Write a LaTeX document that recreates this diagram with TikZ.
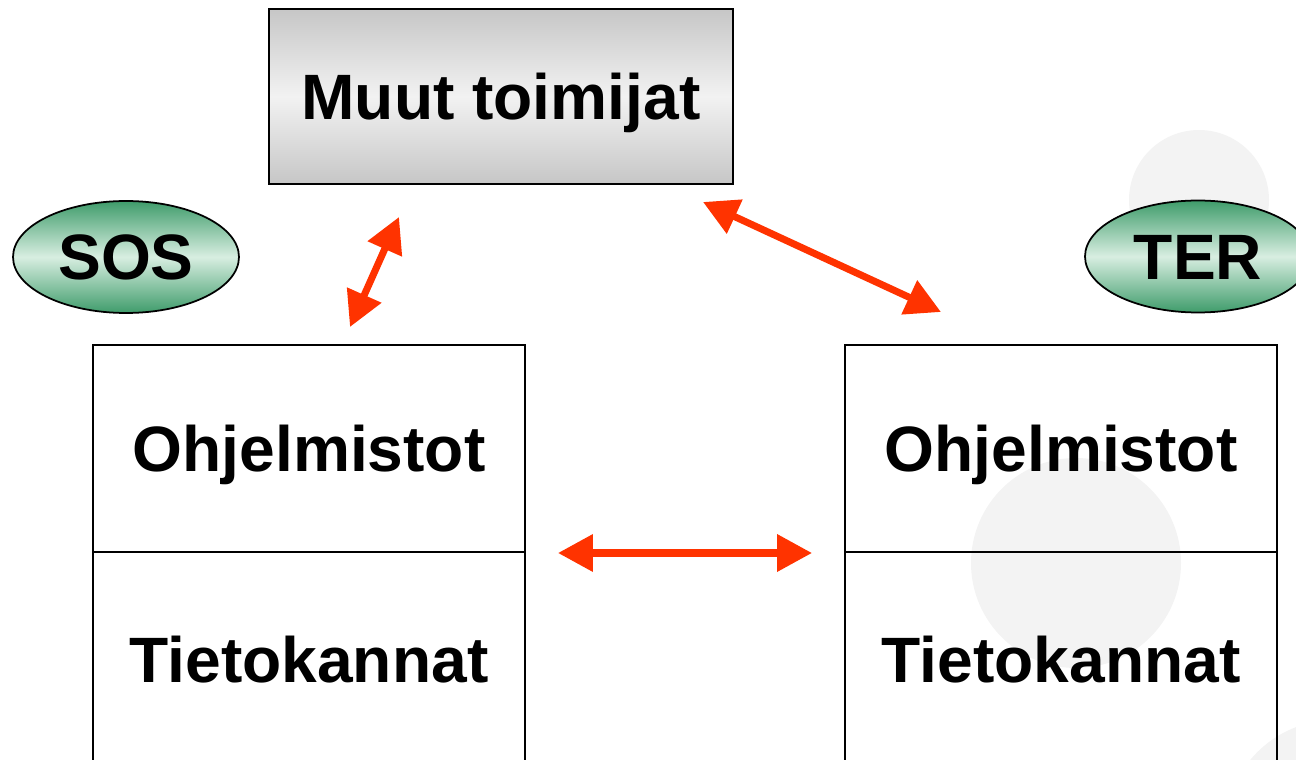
\documentclass[tikz,border=0pt]{standalone}
\usepackage{fontspec}
\setmainfont{Liberation Sans}
\usepackage{tikz}
\usetikzlibrary{shapes.geometric,arrows.meta}
\definecolor{nuolipuna}{HTML}{FF3300}
\definecolor{vihrea}{HTML}{3F9C6B}
\definecolor{vaalea}{HTML}{D8EEE1}
\definecolor{harmaa}{HTML}{C6C6C6}
\definecolor{taustaympyra}{HTML}{F3F3F3}
\tikzset{
  teksti/.style={font=\bfseries\fontsize{36.5}{44}\selectfont, text height=26pt, text depth=0pt},
  kentta/.style={teksti, draw=black, line width=1.2pt, minimum width=8.64cm, inner sep=0pt, outer sep=0pt},
  harmaakentta/.style={teksti, draw=black, line width=1.2pt, top color=harmaa, bottom color=harmaa, middle color=black!5, minimum width=9.28cm, minimum height=3.5cm, inner sep=0pt},
  soikio/.style={teksti, ellipse, draw=black, line width=1pt, top color=vihrea, bottom color=vihrea, middle color=vaalea, minimum width=4.52cm, minimum height=2.24cm, inner sep=0pt},
  nuoli/.style={nuolipuna, line width=4pt, {Triangle[length=0.7cm,width=0.72cm]}-{Triangle[length=0.7cm,width=0.72cm]}}
}

\begin{document}
\begin{tikzpicture}[x=0.02cm,y=-0.02cm]
  \clip (0,0) rectangle (1296,760);
  % faint circles of the slide background
  \foreach \cx/\cy/\r in {1199/200/70,1076/563/105,1335/830/110}
  	\fill[taustaympyra] (\cx,\cy) circle [radius=\r];
  \node[harmaakentta] (muut) at (501,96.5) {Muut toimijat};
  \node[soikio] (sos) at (126,257) {SOS};
  \node[soikio] (ter) at (1198,256.5) {TER};
  \node[kentta, minimum height=4.14cm] (ohj1) at (309,448.5) {Ohjelmistot};
  \node[kentta, minimum height=4.32cm] (tk1) at (309,660) {Tietokannat};
  \node[kentta, minimum height=4.14cm] (ohj2) at (1061,448.5) {Ohjelmistot};
  \node[kentta, minimum height=4.32cm] (tk2) at (1061,660) {Tietokannat};
  % arrow ends
  \coordinate (v1) at (350,327);
  \coordinate (v2) at (399,217);
  \coordinate (o1) at (703,202);
  \coordinate (o2) at (941,312);
  \coordinate (k1) at (558,553);
  \coordinate (k2) at (812,553);
  \draw[nuoli] (v1) -- (v2);
  \draw[nuoli] (o1) -- (o2);
  \draw[nuoli] (k1) -- (k2);
\end{tikzpicture}
\end{document}
